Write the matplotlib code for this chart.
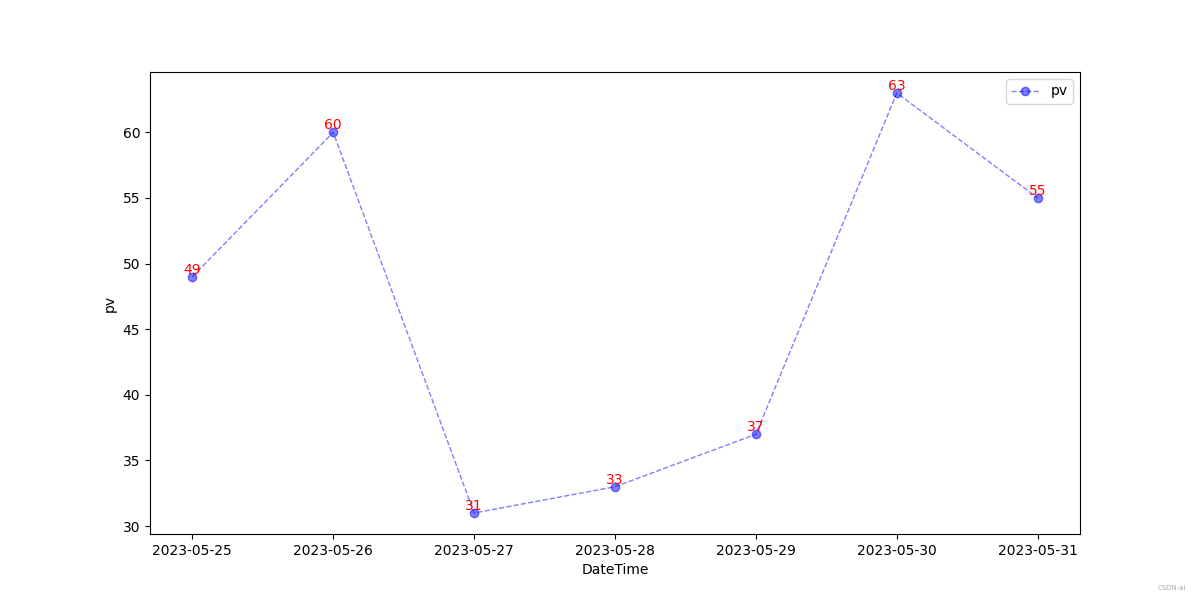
import matplotlib
matplotlib.use("Agg")
import matplotlib.pyplot as plt

dates = ["2023-05-25", "2023-05-26", "2023-05-27", "2023-05-28",
         "2023-05-29", "2023-05-30", "2023-05-31"]
pv = [49, 60, 31, 33, 37, 63, 55]

fig = plt.figure(figsize=(12, 6), dpi=100)
plt.plot(dates, pv, color="blue", linestyle="--", marker="o", alpha=0.5,
         linewidth=1, label="pv")
for x, y in zip(dates, pv):
    plt.text(x, y, str(y), color="red", ha="center", va="bottom", fontsize=10)
plt.xlabel("DateTime")
plt.ylabel("pv")
plt.legend(loc="upper right")
fig.text(0.988, 0.016, "CSDN-ai", color="#aaaaaa", fontsize=5, ha="right")
plt.savefig("out.png")
